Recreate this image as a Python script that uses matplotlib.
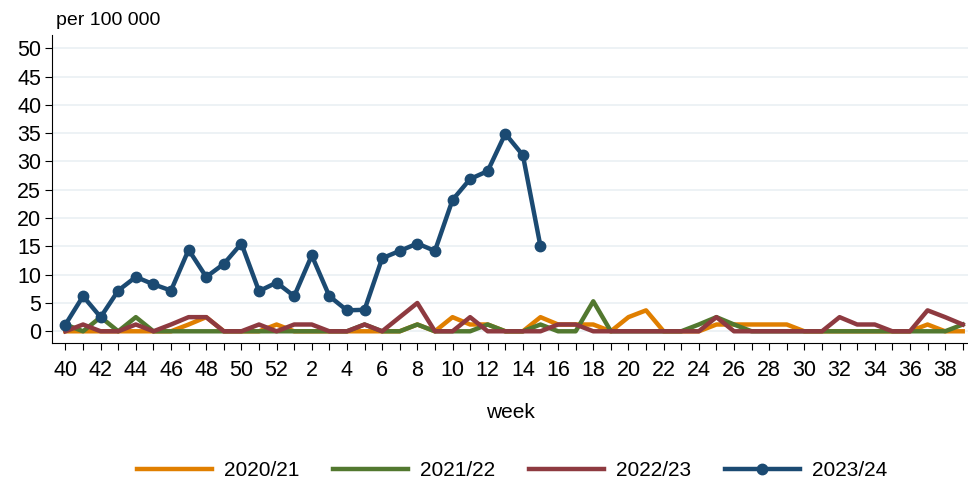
import matplotlib
matplotlib.use("Agg")
import matplotlib.pyplot as plt
import numpy as np

plt.rcParams['font.family'] = ['Liberation Sans', 'DejaVu Sans']

# weeks of the season, 40..52 then 1..39
weeks = list(range(40, 53)) + list(range(1, 40))

s2020 = [0, 0, 0, 0, 0, 0, 0, 1.2, 2.5, 0, 0, 0, 1.2,
         0, 0, 0, 0, 0, 0, 0, 1.2, 0, 2.5, 1.2, 1.2, 0, 0, 2.5, 1.2, 1.2, 1.2, 0,
         2.5, 3.7, 0, 0, 0, 1.2, 1.2, 1.2, 1.2, 1.2, 0, 0, 0, 0, 0, 0, 0, 1.2, 0, 0]
s2021 = [1.2, 0, 2.5, 0, 2.5, 0, 0, 0, 0, 0, 0, 0, 0,
         0, 0, 0, 0, 1.2, 0, 0, 1.2, 0, 0, 0, 1.2, 0, 0, 1.2, 0, 0, 5.3, 0,
         0, 0, 0, 0, 1.2, 2.5, 1.2, 0, 0, 0, 0, 0, 0, 0, 0, 0, 0, 0, 0, 1.2]
s2022 = [0, 1.2, 0, 0, 1.2, 0, 1.2, 2.5, 2.5, 0, 0, 1.2, 0,
         1.2, 1.2, 0, 0, 1.2, 0, 2.5, 5.0, 0, 0, 2.5, 0, 0, 0, 0, 1.2, 1.2, 0, 0,
         0, 0, 0, 0, 0, 2.5, 0, 0, 0, 0, 0, 0, 2.5, 1.2, 1.2, 0, 0, 3.7, 2.5, 1.2]
s2023 = [1.2, 6.2, 2.5, 7.2, 9.6, 8.3, 7.2, 14.4, 9.6, 11.9, 15.5, 7.1, 8.6,
         6.2, 13.4, 6.2, 3.7, 3.8, 12.9, 14.2, 15.5, 14.2, 23.2, 26.9, 28.3, 34.9, 31.1, 15.0]

seasons = ["2020/21", "2021/22", "2022/23", "2023/24"]
colors = ["#E07F00", "#52782F", "#8E3A40", "#1B4A72"]

x = np.arange(len(weeks))

fig = plt.figure(figsize=(9.68, 4.82), dpi=100)
ax = fig.add_axes([0.054, 0.288, 0.946, 0.639])

ax.plot(x, s2020, color=colors[0], lw=3.2, label=seasons[0])
ax.plot(x, s2021, color=colors[1], lw=3.2, label=seasons[1])
ax.plot(x, s2022, color=colors[2], lw=3.2, label=seasons[2])
ax.plot(x[:len(s2023)], s2023, color=colors[3], lw=3.2, marker='o', ms=7.5, label=seasons[3])

ax.set_xlim(-0.75, 51.3)
ax.set_ylim(-2.1, 52.3)
ax.set_yticks(range(0, 51, 5))
ax.set_xticks(x)
ax.set_xticklabels([str(w) if i % 2 == 0 else "" for i, w in enumerate(weeks)])
ax.tick_params(axis='both', labelsize=15.5, length=5, width=0.8, direction='out')
ax.tick_params(axis='x', pad=7)
ax.tick_params(axis='y', pad=3)
ax.yaxis.grid(True, color="#EAF0F3", lw=1.2)
ax.set_axisbelow(True)
for side in ["top", "right"]:
    ax.spines[side].set_visible(False)

ax.set_xlabel("week", fontsize=15, labelpad=16)
fig.text(0.058, 0.958, "per 100 000", fontsize=14, ha="left", va="center")

fig.legend(loc="center", bbox_to_anchor=(0.529, 0.024), ncol=4, frameon=False,
           fontsize=15, handlelength=3.6, columnspacing=1.6, handletextpad=0.6)

fig.savefig("out.png", dpi=100)
